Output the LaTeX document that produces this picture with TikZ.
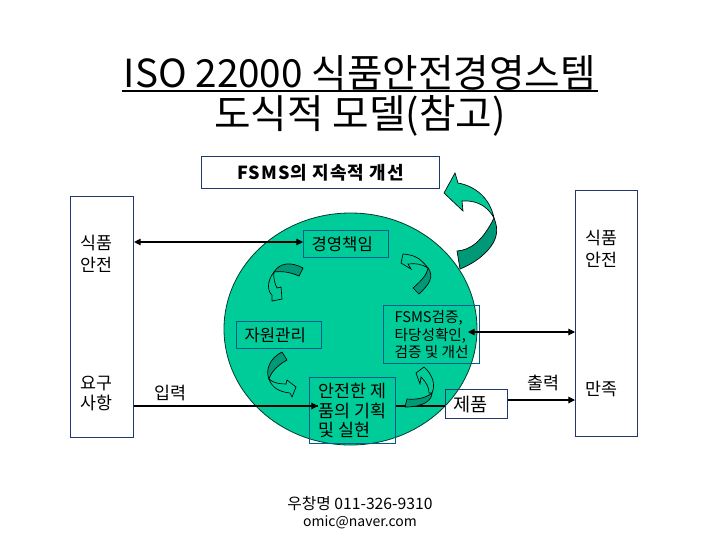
\documentclass[tikz,border=0pt]{standalone}
\usepackage{xcolor}
\usepackage{fontspec}
\setmainfont{Noto Sans CJK KR}
\usetikzlibrary{calc,arrows.meta}
\definecolor{discgreen}{RGB}{0,204,153}
\definecolor{darkgreen}{RGB}{0,153,119}
\definecolor{boxnavy}{RGB}{31,56,110}
\definecolor{boxteal}{RGB}{0,92,140}
\tikzset{
  outerbox/.style={draw=boxnavy,line width=0.8pt,anchor=north west,inner sep=0pt},
  innerbox/.style={draw=boxteal,line width=0.8pt,anchor=north west,inner sep=0pt,align=left,font=\fontsize{12.5}{13}\selectfont},
  padbox/.style={inner xsep=8*0.75pt,text width=#1*0.75pt},
  label/.style={inner sep=0pt,align=left,font=\fontsize{13}{16.5}\selectfont},
  flow/.style={line width=0.8pt,{Triangle[length=5pt,width=5pt]}-{Triangle[length=5pt,width=5pt]}},
  flowto/.style={line width=0.8pt,-{Triangle[length=5pt,width=5pt]}},
  lightpart/.style={fill=discgreen,draw=black,line width=0.5pt},
  darkpart/.style={fill=darkgreen,draw=black,line width=0.5pt}
}
\begin{document}
\begin{tikzpicture}[x=0.75pt,y=-0.75pt]
\useasboundingbox (0,0) rectangle (720,540);
\coordinate (O) at (350.5,329);
\draw[fill=discgreen,draw=black!70!discgreen,line width=0.6pt] (O) ellipse [x radius=126.5,y radius=116];
% title
\node[inner sep=0pt,font=\fontsize{29}{36}\selectfont] (title1) at (360,73) {ISO 22000 식품안전경영스템};
\node[inner sep=0pt,font=\fontsize{29.8}{36}\selectfont] (title2) at (360,116) {도식적 모델(참고)};
\draw[line width=1.6pt] (122,91) coordinate (ulstart) -- (598,91) coordinate (ulend);
% boxes
\node[outerbox,minimum width=238*0.75pt,minimum height=32*0.75pt,font=\fontsize{13.5}{16}\selectfont\bfseries\addfontfeatures{LetterSpace=6}] (improve) at (201,156) {FSMS의 지속적 개선};
\node[outerbox,minimum width=63*0.75pt,minimum height=241*0.75pt] (leftbox) at (70,196) {};
\node[outerbox,minimum width=62*0.75pt,minimum height=246*0.75pt] (rightbox) at (575,190) {};
\node[innerbox,padbox=69,minimum height=27*0.75pt] (mgmt) at (303,230) {경영책임};
\node[innerbox,padbox=69,minimum height=27*0.75pt] (resource) at (236,321) {자원관리};
\node[innerbox,minimum width=96*0.75pt,minimum height=58*0.75pt,font=\fontsize{11}{12.8}\selectfont] (verify) at (383,305) {FSMS검증,\\타당성확인,\\검증 및 개선};
\node[innerbox,minimum width=86*0.75pt,minimum height=66*0.75pt,font=\fontsize{13}{14.5}\selectfont] (plan) at (309,377) {안전한 제\\품의 기획\\및 실현};
\node[outerbox,padbox=46,minimum height=29*0.75pt,align=left,font=\fontsize{14}{14}\selectfont] (product) at (445,389) {제품};
% labels
\node[label] (lsafety) at (96,254) {식품\\안전};
\node[label,font=\fontsize{13}{15}\selectfont] (lreq) at (96,393) {요구\\사항};
\node[label] (linput) at (170,393) {입력};
\node[label] (rsafety) at (601,249) {식품\\안전};
\node[label] (rsatisfy) at (601,389) {만족};
\node[label] (routput) at (543,383) {출력};
\node[inner sep=0pt,align=center,font=\fontsize{10.5}{12.8}\selectfont] (contact) at (360,513) {{\fontsize{11.8}{12.8}\selectfont 우창명 011-326-9310}\\omic@naver.com};
% connectors
\coordinate (inputend) at (318,406);
\coordinate (verifyend) at (468,332);
\coordinate (outy) at (0,400);
\draw[flow] (leftbox.east |- 0,242) -- (mgmt.west |- 0,242);
\draw[flowto] (leftbox.east |- inputend) -- (inputend);
\draw[line width=1.3pt] ($(leftbox.east |- inputend)+(10,0)$) -- (inputend);
\draw[flow] (verifyend) -- (rightbox.west |- verifyend);
\draw[line width=0.8pt] (plan.east |- inputend) -- (product.west |- inputend);
\draw[flowto] (product.east |- outy) -- (rightbox.west |- outy);
% big arrow
\draw[darkpart] (494,218) .. controls (499,230) and (497,240) .. (488,250) .. controls (480,259) and (470,265) .. (460,269) -- (457,251) .. controls (470,250) and (482,242) .. (494,218) -- cycle;
\draw[lightpart] (494,218) .. controls (490,198) and (475,186) .. (458,183) -- (455,173) -- (444,193) -- (463,211) -- (462,201) .. controls (475,200) and (487,205) .. (494,218) -- cycle;
% small arrows
\draw[lightpart] (274,272) .. controls (266,282) and (268,292) .. (272,295) -- (272,301) -- (282,299) -- (281,287) -- (277,288) .. controls (275,284) and (273,278) .. (274,272) -- cycle;
\draw[darkpart] (303,268) -- (299,276) .. controls (290,272) and (282,271) .. (274,272) .. controls (280,262) and (292,262) .. (303,268) -- cycle;
\draw[lightpart] (428,268) .. controls (420,258) and (415,255) .. (403,254) -- (401,263) -- (411,269) -- (408,264) .. controls (415,263) and (422,264) .. (428,268) -- cycle;
\draw[darkpart] (428,268) .. controls (434,276) and (430,284) .. (419,294) -- (413,288) .. controls (421,281) and (427,275) .. (428,268) -- cycle;
\draw[lightpart] (269,379) .. controls (272,388) and (280,392) .. (290,393) -- (292,397) -- (296,387) -- (287,380) -- (286,384) .. controls (280,384) and (273,383) .. (269,379) -- cycle;
\draw[darkpart] (282,352) -- (287,360) .. controls (278,365) and (271,372) .. (269,379) .. controls (265,370) and (270,358) .. (282,352) -- cycle;
\draw[lightpart] (432,393) .. controls (436,384) and (432,374) .. (424,367) -- (416,373) -- (420,384) -- (421,377) .. controls (426,382) and (429,387) .. (429,393) -- cycle;
\draw[darkpart] (432,393) .. controls (432,400) and (424,407) .. (405,407) -- (407,399) .. controls (416,400) and (426,398) .. (432,393) -- cycle;
\end{tikzpicture}
\end{document}
